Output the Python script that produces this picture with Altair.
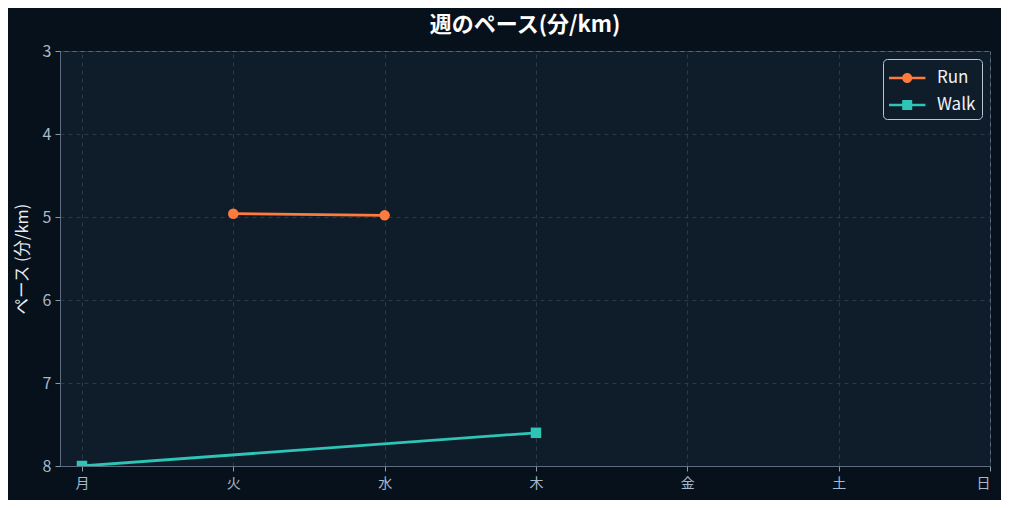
import altair as alt
import pandas as pd

days = ["月", "火", "水", "木", "金", "土", "日"]
run_days = ["火", "水"]
run_pace = [4.96, 4.98]
walk_days = ["月", "木"]
walk_pace = [8.0, 7.6]
series_names = ["Run", "Walk"]
series_colors = ["#ff7b3d", "#2ec4b6"]

rows = []
for d, v in zip(run_days, run_pace):
    rows.append({"series": "Run", "day": days.index(d), "pace": v})
for d, v in zip(walk_days, walk_pace):
    rows.append({"series": "Walk", "day": days.index(d), "pace": v})
df = pd.DataFrame(rows)

BG = "#07111b"
PLOT_BG = "#0f1d2a"
GRID = "#2b3b4b"
TICK_LABEL = "#a9b9c9"
FONT = "Noto Sans CJK JP"

label_expr = "[" + ",".join(f"'{d}'" for d in days) + "][round(datum.value)]"

x = alt.X(
    "day:Q",
    scale=alt.Scale(domain=[-0.145, 6], nice=False, zero=False),
    axis=alt.Axis(
        values=list(range(len(days))),
        labelExpr=label_expr,
        title=None,
        grid=True,
        gridDash=[4, 4],
        gridColor=GRID,
        labelColor=TICK_LABEL,
        labelFontSize=14,
        labelFont=FONT,
        labelPadding=5,
        tickColor="#8a9aaa",
        tickSize=5,
        domainColor="#5d6d7d",
    ),
)
y = alt.Y(
    "pace:Q",
    scale=alt.Scale(domain=[3, 8], reverse=True, nice=False, zero=False),
    axis=alt.Axis(
        values=[3, 4, 5, 6, 7, 8],
        title="ペース (分/km)",
        titleColor="#e6ecf2",
        titleFont=FONT,
        titleFontSize=16.5,
        titleFontWeight="normal",
        titlePadding=12,
        grid=True,
        gridDash=[4, 4],
        gridColor=GRID,
        labelColor=TICK_LABEL,
        labelFontSize=16,
        labelFont=FONT,
        labelPadding=4,
        tickColor="#8a9aaa",
        tickSize=5,
        domainColor="#5d6d7d",
    ),
)

base = alt.Chart(df)
color_of = dict(zip(series_names, series_colors))
shape_of = {"Run": "circle", "Walk": "square"}

layers = []
for name in series_names:
    sub = base.transform_filter(alt.datum.series == name)
    layers.append(
        sub.mark_line(strokeWidth=2.8, clip=True, color=color_of[name]).encode(x=x, y=y)
    )
    layers.append(
        sub.mark_point(
            shape=shape_of[name], filled=True, size=110, opacity=1, clip=True,
            color=color_of[name],
        ).encode(x=x, y=y)
    )

circle_path = "M-1,-0.1H1.8V0.1H-1Z M0.785,0 A0.385,0.385 0 1,1 0.015,0 A0.385,0.385 0 1,1 0.785,0Z"
square_path = "M-1,-0.1H1.8V0.1H-1Z M0.015,-0.385H0.785V0.385H0.015Z"

legend_layer = base.mark_point(filled=True, opacity=0, size=676).encode(
    x=x,
    y=y,
    color=alt.Color(
        "series:N",
        scale=alt.Scale(domain=series_names, range=series_colors),
        legend=alt.Legend(
            title=None,
            orient="top-right",
            offset=8,
            fillColor=PLOT_BG,
            strokeColor="#b9c4cf",
            cornerRadius=4,
            padding=6,
            labelColor="#eef2f6",
            labelFont=FONT,
            labelFontSize=17,
            symbolOpacity=1,
            symbolStrokeWidth=0,
            symbolSize=676,
            rowPadding=6,
            labelOffset=22,
        ),
    ),
    shape=alt.Shape(
        "series:N",
        scale=alt.Scale(domain=series_names, range=[circle_path, square_path]),
        legend=None,
    ),
)
layers.append(legend_layer)

chart = (
    alt.layer(*layers)
    .properties(
        width=930,
        height=415,
        background=BG,
        padding={"left": 52, "top": 43, "right": 11, "bottom": 34},
        autosize=alt.AutoSizeParams(type="none"),
        title=alt.TitleParams(
            "週のペース(分/km)",
            font=FONT,
            fontSize=22,
            fontWeight="bold",
            color="#ffffff",
            anchor="middle",
            offset=6,
        ),
    )
    .configure_view(fill=PLOT_BG, stroke="#5d6d7d", strokeWidth=1)
)

chart.save("out.html", embed_options={"renderer": "svg", "actions": False})
